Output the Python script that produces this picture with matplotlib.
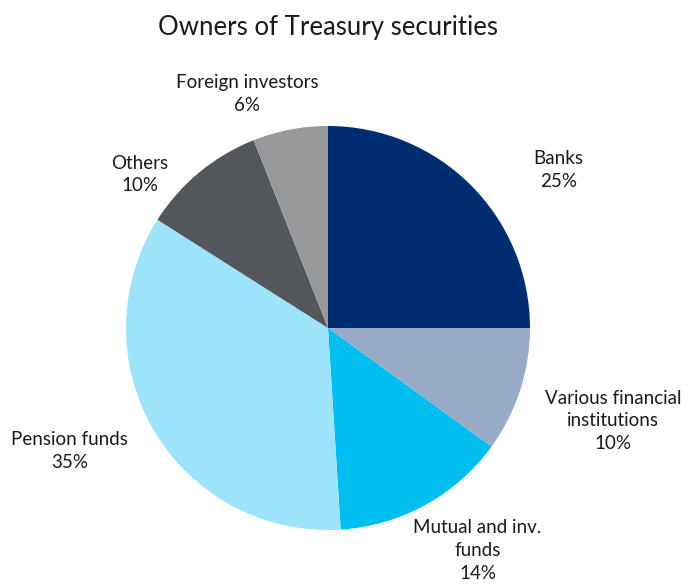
import numpy as np
import matplotlib.pyplot as plt

plt.rcParams['font.family'] = ['Lato', 'DejaVu Sans']

# holders of Treasury securities, % of total (clockwise from 12 o'clock)
owners = ['Banks', 'Various financial\ninstitutions', 'Mutual and inv.\nfunds',
          'Pension funds', 'Others', 'Foreign investors']
shares = [25, 10, 14, 35, 10, 6]
colors = ['#002d72', '#9aabc8', '#00bff0', '#9de3fa', '#53565a', '#97999b']

# label centres in pie-radius units
label_xy = [(1.14, 0.78), (1.41, -0.46), (0.74, -1.10),
            (-1.28, -0.61), (-0.93, 0.76), (-0.40, 1.16)]

fig = plt.figure(figsize=(6.88, 5.84), dpi=100)
ax = fig.add_axes([126 / 688, 54 / 584, 404 / 688, 404 / 584])

ax.pie(shares, colors=colors, startangle=90, counterclock=False,
       radius=1.0, wedgeprops=dict(linewidth=0))

for name, val, (x, y) in zip(owners, shares, label_xy):
    ax.text(x, y, '{}\n{}%'.format(name, val), ha='center', va='center',
            fontsize=13.5, linespacing=1.42, color='#1a1a1a')

ax.set_xlim(-1, 1)
ax.set_ylim(-1, 1)
ax.set_aspect('equal')
ax.axis('off')

fig.text(328 / 688, 1 - 28 / 584, 'Owners of Treasury securities',
         ha='center', va='center', fontsize=18.5, color='#1a1a1a')

fig.savefig('out.png', dpi=100, facecolor='white')
